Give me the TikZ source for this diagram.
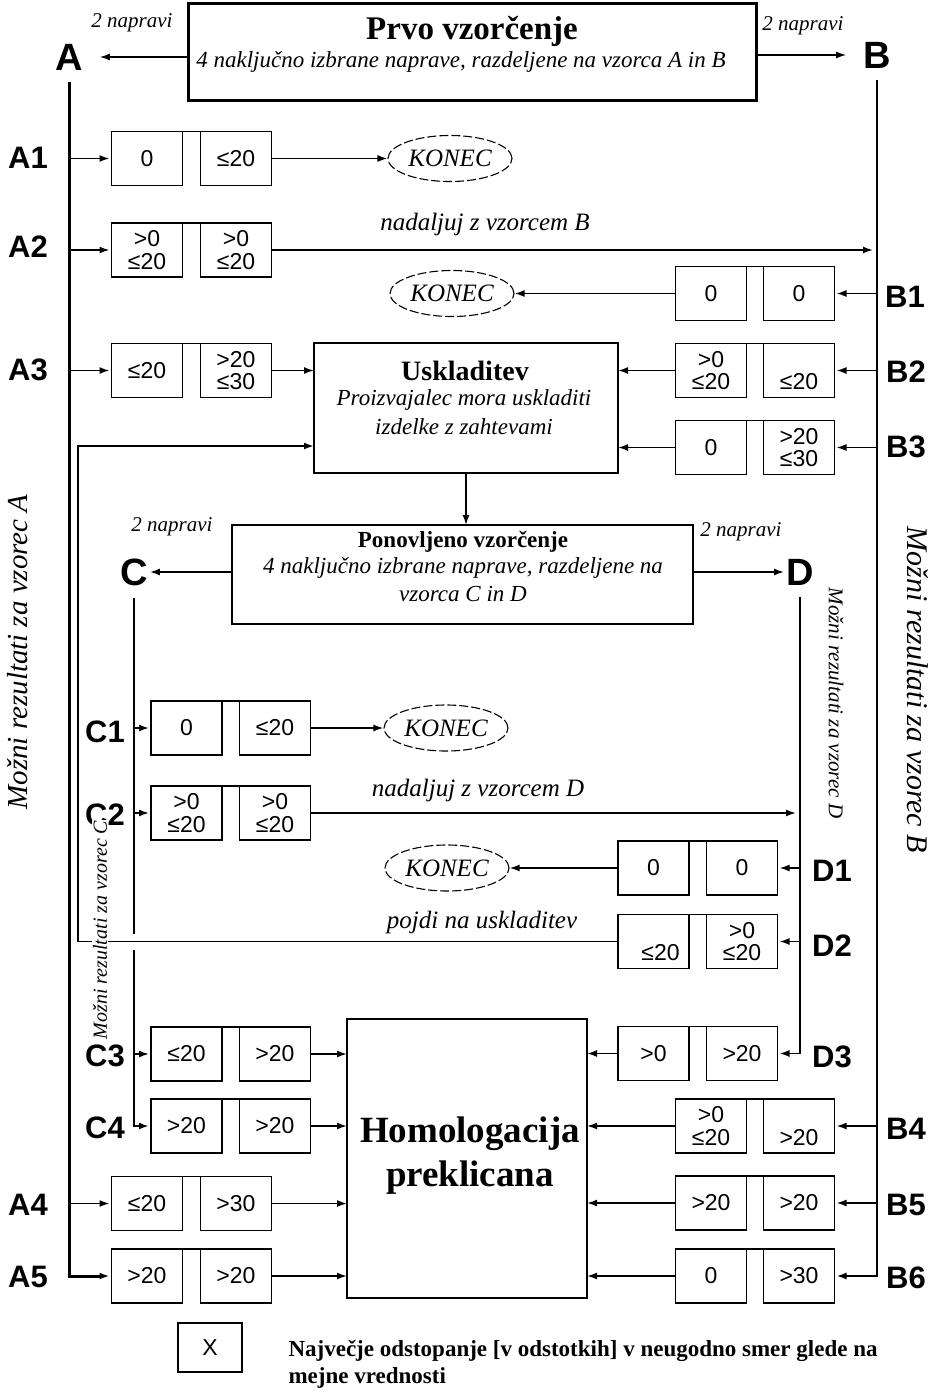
\documentclass[tikz,border=0pt]{standalone}
\usepackage{fontspec}
\setmainfont{Liberation Serif}
\setsansfont{Liberation Sans}
\usetikzlibrary{arrows.meta,shapes.geometric}

\begin{document}
\begin{tikzpicture}
  [x=1pt,y=-1pt,
   valbox/.style={rectangle,draw=black,line width=1.4pt,inner sep=0,outer sep=0,
                  minimum width=71pt,minimum height=54pt,align=center,
                  font=\sffamily\fontsize{23}{22.5}\selectfont},
   stage/.style={rectangle,draw=black,line width=1.4pt,outer sep=0},
   konec/.style={ellipse,draw=black,dash pattern=on 9pt off 3pt,line width=1.1pt,
                 inner sep=0,minimum width=124pt,minimum height=46pt,
                 font=\itshape\fontsize{25}{25}\selectfont},
   rowlbl/.style={font=\sffamily\bfseries\fontsize{31}{31}\selectfont},
   grouplbl/.style={font=\sffamily\bfseries\fontsize{38}{38}\selectfont,inner sep=2pt},
   remark/.style={font=\itshape\fontsize{23}{23}\selectfont},
   flowtext/.style={font=\itshape\fontsize{25}{25}\selectfont},
   napravi/.style={font=\itshape\fontsize{21}{21}\selectfont},
   flow/.style={line width=1.6pt,-{Latex[length=10pt,width=7pt]}}]
  \useasboundingbox (0,0) rectangle (936,1392);
  % first sampling
  \node[stage,line width=3pt,minimum width=568pt,minimum height=97pt] (first) at (472,51.5) {};
  \node[font=\bfseries\fontsize{33}{33}\selectfont] (firstT) at (472,31) {Prvo vzorčenje};
  \node[remark] (firstS) at (461,62) {4 naključno izbrane naprave, razdeljene na vzorca A in B};
  \node[grouplbl] (A) at (69,57) {A};
  \node[grouplbl] (B) at (877,55) {B};
  \node[napravi] (nA) at (132,23) {2 napravi};
  \node[napravi] (nB) at (803,26) {2 napravi};
  \draw[flow,line width=1.2pt,shorten >=15pt] (first.west |- A) -- (A);
  \draw[flow,line width=1.2pt,shorten >=15pt] (first.east |- B) -- (B);
  % adjustment and second sampling
  \node[stage,minimum width=304pt,minimum height=130pt] (usk) at (466,408) {};
  \node[font=\bfseries\fontsize{28}{28}\selectfont] (uskT) at (465,371) {Uskladitev};
  \node[remark] (uskS1) at (464,400) {Proizvajalec mora uskladiti};
  \node[remark] (uskS2) at (464,427) {izdelke z zahtevami};
  \node[stage,minimum width=461pt,minimum height=99pt] (pon) at (462.5,574.5) {};
  \node[font=\bfseries\fontsize{23}{23}\selectfont] (ponT) at (463,542) {Ponovljeno vzorčenje};
  \node[remark] (ponS1) at (463,568) {4 naključno izbrane naprave, razdeljene na};
  \node[remark] (ponS2) at (463,594) {vzorca C in D};
  \node[grouplbl] (C) at (134,572) {C};
  \node[grouplbl] (D) at (800,572) {D};
  \node[napravi] (nC) at (172,527) {2 napravi};
  \node[napravi] (nD) at (741,532) {2 napravi};
  \draw[flow] (usk.south) -- (usk.south |- pon.north);
  \draw[flow] (pon.west |- C) -- (C);
  \draw[flow] (pon.east |- D) -- (D);
  \node[stage,line width=1.2pt,minimum width=240pt,minimum height=279pt] (hom) at (467,1158.5) {};
  \node[font=\bfseries\fontsize{37}{37}\selectfont] (homT1) at (470,1134) {Homologacija};
  \node[font=\bfseries\fontsize{37}{37}\selectfont] (homT2) at (470,1178) {preklicana};
  % results for sample A
  \node[rowlbl] (A1) at (28,158) {A1};
  \node[rowlbl] (A2) at (28,247) {A2};
  \node[rowlbl] (A3) at (28,370) {A3};
  \node[rowlbl] (A4) at (28,1205) {A4};
  \node[rowlbl] (A5) at (28,1277) {A5};
  \node[valbox] (a1l) at (147,158.5) {0};
  \node[valbox] (a1r) at (236,158.5) {≤20};
  \node[valbox] (a2l) at (147,250) {>0\\≤20};
  \node[valbox] (a2r) at (236,250) {>0\\≤20};
  \node[valbox] (a3l) at (147,370.5) {≤20};
  \node[valbox] (a3r) at (236,370.5) {>20\\≤30};
  \node[valbox] (a4l) at (147,1203.5) {≤20};
  \node[valbox] (a4r) at (236,1203.5) {>30};
  \node[valbox] (a5l) at (147,1276) {>20};
  \node[valbox] (a5r) at (236,1276) {>20};
  % results for sample B
  \node[rowlbl] (B1) at (905,297) {B1};
  \node[rowlbl] (B2) at (906,372) {B2};
  \node[rowlbl] (B3) at (906,447) {B3};
  \node[rowlbl] (B4) at (906,1129) {B4};
  \node[rowlbl] (B5) at (906,1205) {B5};
  \node[rowlbl] (B6) at (906,1278) {B6};
  \node[valbox] (b1l) at (711,293.5) {0};
  \node[valbox] (b1r) at (799,293.5) {0};
  \node[valbox] (b2l) at (711,370.5) {>0\\≤20};
  \node[valbox] (b2r) at (799,370.5) {\phantom{0}\\≤20};
  \node[valbox] (b3l) at (711,447.5) {0};
  \node[valbox] (b3r) at (799,447.5) {>20\\≤30};
  \node[valbox] (b4l) at (711,1126) {>0\\≤20};
  \node[valbox] (b4r) at (799,1126) {\phantom{0}\\>20};
  \node[valbox] (b5l) at (711,1203) {>20};
  \node[valbox] (b5r) at (799,1203) {>20};
  \node[valbox] (b6l) at (711,1276) {0};
  \node[valbox] (b6r) at (799,1276) {>30};
  % results for sample C
  \node[rowlbl] (C1) at (105,732) {C1};
  \node[rowlbl] (C2) at (105,815) {C2};
  \node[rowlbl] (C3) at (105,1056) {C3};
  \node[rowlbl] (C4) at (105,1128) {C4};
  \node[valbox] (c1l) at (186.5,728) {0};
  \node[valbox] (c1r) at (275,728) {≤20};
  \node[valbox] (c2l) at (186.5,813) {>0\\≤20};
  \node[valbox] (c2r) at (275,813) {>0\\≤20};
  \node[valbox] (c3l) at (186.5,1054) {≤20};
  \node[valbox] (c3r) at (275,1054) {>20};
  \node[valbox] (c4l) at (186.5,1126) {>20};
  \node[valbox] (c4r) at (275,1126) {>20};
  % results for sample D
  \node[rowlbl] (D1) at (832,871) {D1};
  \node[rowlbl] (D2) at (832,946) {D2};
  \node[rowlbl] (D3) at (832,1057) {D3};
  \node[valbox] (d1l) at (653.5,868) {0};
  \node[valbox] (d1r) at (742,868) {0};
  \node[valbox] (d2l) at (653.5,941.5) {\phantom{0}\\\hspace*{14pt}≤20};
  \node[valbox] (d2r) at (742,941.5) {>0\\≤20};
  \node[valbox] (d3l) at (653.5,1053.5) {>0};
  \node[valbox] (d3r) at (742,1053.5) {>20};
  \draw[line width=1.4pt] (a1l.north east) -- (a1r.north west) (a2l.north east) -- (a2r.north west)
    (a3l.north east) -- (a3r.north west) (a4l.north east) -- (a4r.north west)
    (a5l.north east) -- (a5r.north west) (b1l.north east) -- (b1r.north west)
    (b2l.north east) -- (b2r.north west) (b3l.north east) -- (b3r.north west)
    (b4l.north east) -- (b4r.north west) (b5l.north east) -- (b5r.north west)
    (b6l.north east) -- (b6r.north west) (c1l.north east) -- (c1r.north west)
    (c2l.north east) -- (c2r.north west) (c3l.north east) -- (c3r.north west)
    (c4l.north east) -- (c4r.north west) (d1l.north east) -- (d1r.north west)
    (d2l.north east) -- (d2r.north west) (d3l.north east) -- (d3r.north west);
  % end states
  \node[konec] (k1) at (450,158.5) {KONEC};
  \node[konec] (k2) at (452,293.5) {KONEC};
  \node[konec] (k3) at (446,728) {KONEC};
  \node[konec] (k4) at (447,868) {KONEC};
  % sample lines
  \coordinate (back) at (78,446);
  \coordinate (cgapT) at (134,934);
  \coordinate (cgapB) at (134,950);
  \draw[line width=3pt,-{Latex[length=10pt,width=7pt]},shorten >=2pt] ([yshift=-10pt]A.south) |- (a5l);
  \draw[line width=1.8pt,-{Latex[length=10pt,width=7pt]},shorten >=2pt] ([yshift=-10pt]B.south) |- (b6r);
  \draw[line width=2.6pt] ([yshift=-10pt]C.south) -- (cgapT);
  \draw[line width=2.6pt,-{Latex[length=10pt,width=7pt]},shorten >=2pt] (cgapB) |- (c4l);
  \draw[line width=1.8pt,-{Latex[length=10pt,width=7pt]},shorten >=2pt] ([yshift=-10pt]D.south) |- (d3r);
  \draw[flow,shorten >=2pt] (A.south |- a1l) -- (a1l);
  \draw[flow,shorten >=2pt] (A.south |- a2l) -- (a2l);
  \draw[flow,shorten >=2pt] (A.south |- a3l) -- (a3l);
  \draw[flow,shorten >=2pt] (A.south |- a4l) -- (a4l);
  \draw[flow,shorten >=2pt] (B.south |- b1r) -- (b1r);
  \draw[flow,shorten >=2pt] (B.south |- b2r) -- (b2r);
  \draw[flow,shorten >=2pt] (B.south |- b3r) -- (b3r);
  \draw[flow,shorten >=2pt] (B.south |- b4r) -- (b4r);
  \draw[flow,shorten >=2pt] (B.south |- b5r) -- (b5r);
  \draw[flow,shorten >=2pt] (C.south |- c1l) -- (c1l);
  \draw[flow,shorten >=2pt] (C.south |- c2l) -- (c2l);
  \draw[flow,shorten >=2pt] (C.south |- c3l) -- (c3l);
  \draw[flow,shorten >=2pt] (D.south |- d1r) -- (d1r);
  \draw[flow,shorten >=2pt] (D.south |- d2r) -- (d2r);
  % outcomes
  \draw[flow] (a1r) -- (k1);
  \draw[flow,shorten >=4pt] (a2r) -- (B.south |- a2r);
  \node[flowtext] (contB) at (485,224) {nadaljuj z vzorcem B};
  \draw[flow] (a3r) -- (a3r -| usk.west);
  \draw[flow] (b1l) -- (k2);
  \draw[flow] (b2l) -- (b2l -| usk.east);
  \draw[flow] (b3l) -- (b3l -| usk.east);
  \draw[flow] (c1r) -- (k3);
  \draw[flow,shorten >=4pt] (c2r) -- (D.south |- c2r);
  \node[flowtext] (contD) at (478,790) {nadaljuj z vzorcem D};
  \draw[flow] (d1l) -- (k4);
  \draw[line width=1.8pt,-{Latex[length=10pt,width=7pt]}] (d2l) -| (back) -- (back -| usk.west);
  \node[flowtext] (toUsk) at (482,922) {pojdi na uskladitev};
  \draw[flow] (c3r) -- (c3r -| hom.west);
  \draw[flow] (c4r) -- (c4r -| hom.west);
  \draw[flow] (a4r) -- (a4r -| hom.west);
  \draw[flow] (a5r) -- (a5r -| hom.west);
  \draw[flow] (d3l) -- (d3l -| hom.east);
  \draw[flow] (b4l) -- (b4l -| hom.east);
  \draw[flow] (b5l) -- (b5l -| hom.east);
  \draw[flow] (b6l) -- (b6l -| hom.east);
  % side captions
  \node[font=\itshape\fontsize{29}{29}\selectfont,rotate=90] (sideA) at (18,652) {Možni rezultati za vzorec A};
  \node[font=\itshape\fontsize{30}{30}\selectfont,rotate=-90] (sideB) at (918,690) {Možni rezultati za vzorec B};
  \node[font=\itshape\fontsize{20}{20}\selectfont,rotate=90,fill=white,inner sep=1pt] (sideC) at (100,930) {Možni rezultati za vzorec C};
  \node[font=\itshape\fontsize{21}{21}\selectfont,rotate=-90] (sideD) at (836,703) {Možni rezultati za vzorec D};
  % legend
  \node[valbox,minimum width=64pt,minimum height=49pt] (key) at (210,1347.5) {X};
  \node[font=\bfseries\fontsize{23}{27}\selectfont,align=left,anchor=north west] (keyT) at (285,1337)
    {Največje odstopanje [v odstotkih] v neugodno smer glede na\\mejne vrednosti};
\end{tikzpicture}
\end{document}
